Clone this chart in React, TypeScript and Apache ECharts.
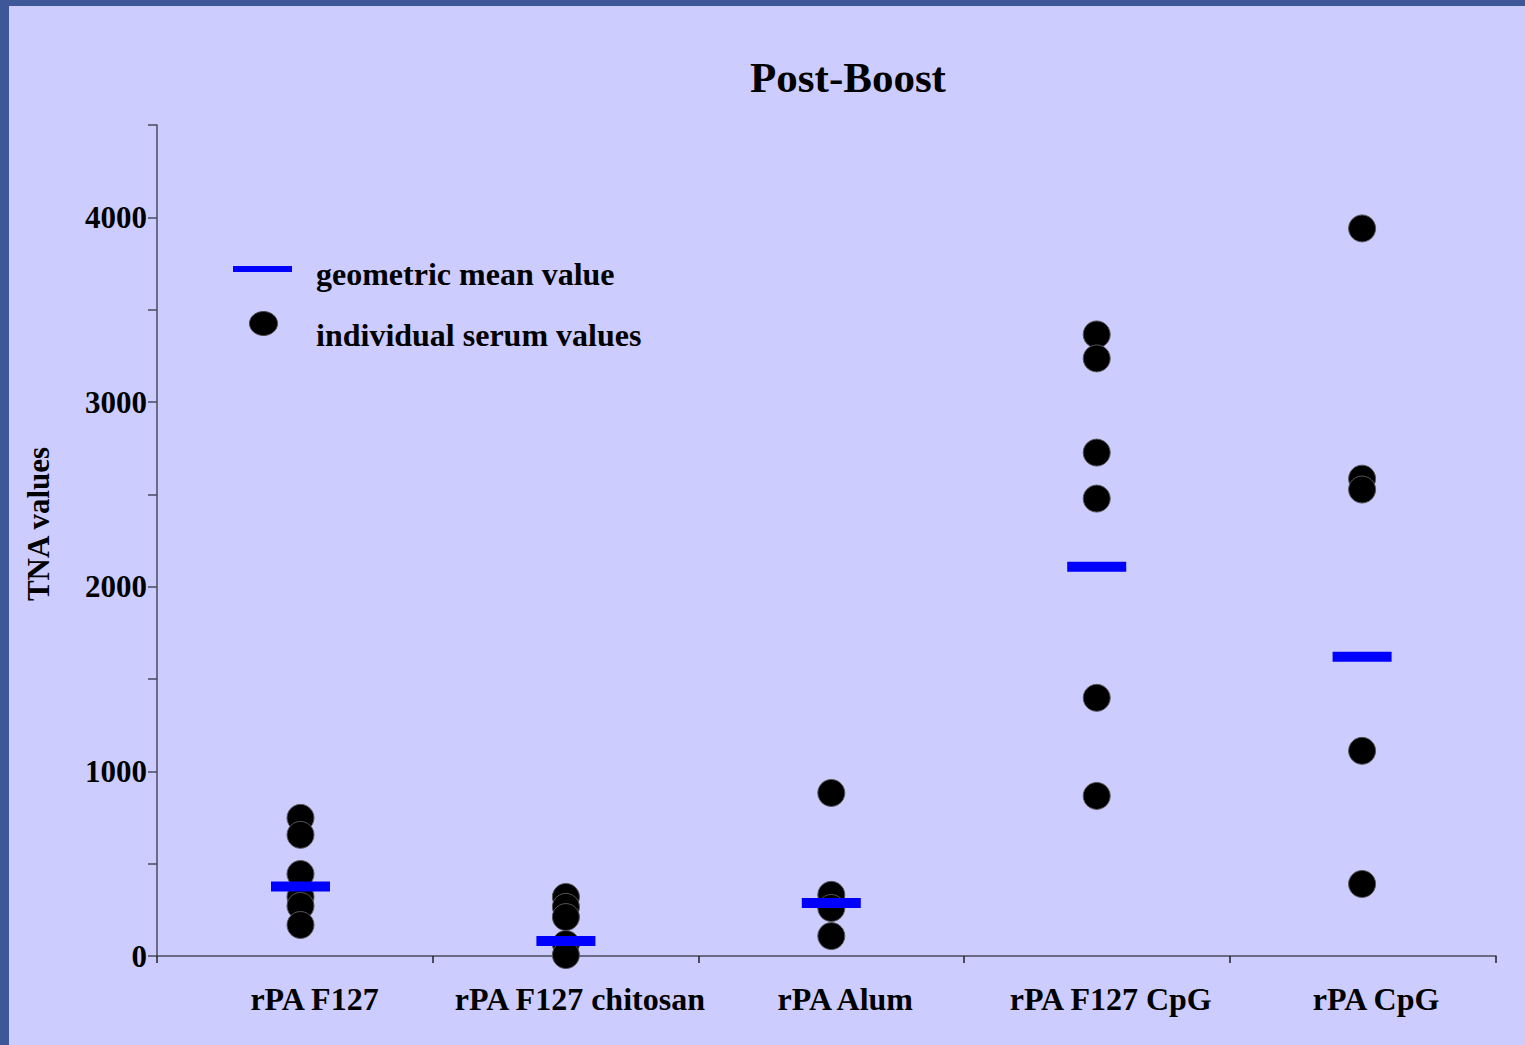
import React, { useEffect, useRef } from "react";
import * as echarts from "echarts";

const categories = ["rPA F127", "rPA F127 chitosan", "rPA Alum", "rPA F127 CpG", "rPA CpG"];
const serumF127 = [748, 656, 444, 320, 271, 168];
const serumF127Chitosan = [320, 266, 211, 65, 5];
const serumAlum = [883, 331, 260, 108];
const serumF127CpG = [3366, 3236, 2726, 2477, 1398, 867];
const serumCpG = [3940, 2585, 2526, 1111, 390];
const geometricMeans = [376, 81, 287, 2108, 1621];
const yTickLabels = [0, 1000, 2000, 3000, 4000];
const xBoundaries = [-0.5407, 0.5, 1.5, 2.5, 3.5, 4.5045];

const FONT = "'Liberation Serif', 'Times New Roman', serif";

export default function App() {
  const ref = useRef<HTMLDivElement>(null);
  useEffect(() => {
    if (!ref.current) return;
    const chart = echarts.init(ref.current, null, { renderer: "svg" });
    const groups = [serumF127, serumF127Chitosan, serumAlum, serumF127CpG, serumCpG];
    const dots: number[][] = [];
    groups.forEach((g, i) => g.forEach((v) => dots.push([i, v])));
    const means = geometricMeans.map((v, i) => [i, v]);
    chart.setOption({
      animation: false,
      backgroundColor: "#CCCCFF",
      grid: { left: 157, right: 29, top: 125, bottom: 89 },
      xAxis: {
        type: "value",
        min: xBoundaries[0],
        max: xBoundaries[xBoundaries.length - 1],
        axisLine: { show: true, onZero: false, lineStyle: { color: "#4a4a5c", width: 1.5 } },
        axisTick: {
          show: true,
          length: 7,
          customValues: xBoundaries,
          lineStyle: { color: "#222", width: 1.5 },
        },
        axisLabel: {
          customValues: [0, 1, 2, 3, 4],
          formatter: (v: number) => categories[Math.round(v)] ?? "",
          fontFamily: FONT,
          fontWeight: "bold",
          fontSize: 32,
          color: "#000",
          margin: 27,
          padding: [0, 0, 0, 28],
        },
        splitLine: { show: false },
      },
      yAxis: {
        type: "value",
        min: 0,
        max: 4500,
        interval: 500,
        axisLine: { show: true, onZero: false, lineStyle: { color: "#4a4a5c", width: 1.5 } },
        axisTick: { show: true, length: 9, lineStyle: { color: "#4a4a5c", width: 1.5 } },
        axisLabel: {
          formatter: (v: number) => (yTickLabels.includes(v) ? String(v) : ""),
          fontFamily: FONT,
          fontWeight: "bold",
          fontSize: 31,
          color: "#000",
          margin: 10,
          padding: [8, 0, 0, 0],
        },
        splitLine: { show: false },
      },
      series: [
        {
          type: "scatter",
          name: "individual serum values",
          data: dots,
          symbol: "circle",
          symbolSize: 27,
          itemStyle: { color: "#000", borderColor: "#555", borderWidth: 1, opacity: 1 },
          z: 2,
        },
        {
          type: "scatter",
          name: "geometric mean value",
          data: means,
          symbol: "rect",
          symbolSize: [59, 10],
          itemStyle: { color: "#0000FF", opacity: 1 },
          z: 3,
        },
      ],
      graphic: [
        { type: "rect", shape: { x: 0, y: 0, width: 1525, height: 6 }, style: { fill: "#3d5799" }, z: 10 },
        { type: "rect", shape: { x: 0, y: 0, width: 9, height: 1045 }, style: { fill: "#3d5799" }, z: 10 },
        {
          type: "text",
          x: 848,
          y: 77,
          style: {
            text: "Post-Boost",
            font: `bold 43px ${FONT}`,
            fill: "#000",
            align: "center",
            verticalAlign: "middle",
          },
        },
        {
          type: "text",
          x: 38,
          y: 524,
          rotation: Math.PI / 2,
          style: {
            text: "TNA values",
            font: `bold 31px ${FONT}`,
            fill: "#000",
            align: "center",
            verticalAlign: "middle",
          },
        },
        { type: "rect", shape: { x: 233, y: 266, width: 59, height: 6 }, style: { fill: "#0000FF" } },
        {
          type: "ellipse",
          shape: { cx: 263.5, cy: 323.5, rx: 14, ry: 12 },
          style: { fill: "#000", stroke: "#444", lineWidth: 1 },
        },
        {
          type: "text",
          x: 316,
          y: 274,
          style: {
            text: "geometric mean value",
            font: `bold 32px ${FONT}`,
            fill: "#000",
            align: "left",
            verticalAlign: "middle",
          },
        },
        {
          type: "text",
          x: 316,
          y: 335,
          style: {
            text: "individual serum values",
            font: `bold 32px ${FONT}`,
            fill: "#000",
            align: "left",
            verticalAlign: "middle",
          },
        },
      ],
    });
    return () => chart.dispose();
  }, []);
  return (
    <div style={{ position: "fixed", left: 0, top: 0, width: 1525, height: 1045 }}>
      <div ref={ref} style={{ width: 1525, height: 1045 }} />
    </div>
  );
}
